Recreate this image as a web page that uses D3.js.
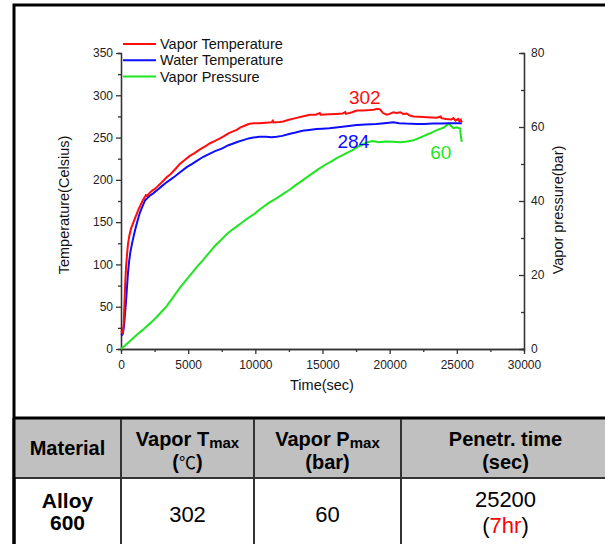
<!DOCTYPE html>
<html>
<head>
<meta charset="utf-8">
<script src="https://cdn.jsdelivr.net/npm/d3@7"></script>
<style>
  body { margin: 0; background: #fff; }
  svg text { font-family: "Liberation Sans", Arial, sans-serif; }
</style>
</head>
<body>
<div id="chart"></div>
<script>
// time (sec), temperature (Celsius)
var vaporTemp = [
  [0,21],[60,20],[130,19],[200,30],[260,55],[320,80],[380,98],[440,110],[520,124],[620,134],
  [740,142],[880,148],[1000,153],[1150,159],[1300,165],[1450,170],[1600,175],[1750,179],[1850,182],
  [1950,181],[2100,184],[2300,187],[2500,189],[2700,192],[2900,195],[3150,199],[3400,203],[3700,207],
  [4000,212],[4390,219],[4700,223],[5100,228],[5500,232],[5880,236],[6300,240],[6600,243],[7000,246],
  [7370,249],[7700,252],[8000,255],[8300,257],[8610,259],[8900,262],[9200,264],[9500,266],[9850,267],
  [10300,267],[10800,267.5],[11200,268],[11300,270],[11350,268],[11800,268.5],[12080,269],[12500,271],
  [13000,273],[13500,275],[14070,277],[14500,277],[14800,279],[14850,277],[15500,277.5],[16000,278],
  [16500,278.5],[16700,280],[16750,278],[17200,280],[17550,282],[18000,282],[18500,282.5],[18800,283],
  [19100,284],[19300,283],[19500,279],[19790,277],[20000,278],[20280,280],[20500,279],[20800,280],
  [21000,278],[21270,278.5],[21500,276],[21770,275],[22200,274.5],[22800,274],[23500,273.5],[23800,275],
  [23850,273],[24200,272],[24600,271.5],[24750,273],[24900,270],[25100,272],[25200,269],[25300,271],[25370,268]
];

var waterTemp = [
  [0,18],[80,17],[150,19],[230,28],[300,42],[370,55],[440,72],[520,90],[600,103],[700,115],[850,127],
  [1040,140],[1200,150],[1400,161],[1660,171],[1800,176],[2000,179],[2200,182],[2400,184],[2700,188],
  [3000,192],[3300,196],[3650,200],[4000,204],[4400,209],[4890,215],[5300,219],[5700,223],[6100,227],
  [6620,231],[7000,234],[7500,237],[8000,241],[8360,243],[8700,245],[9100,247],[9500,249],[9850,250],
  [10300,251],[10800,251],[11200,250.5],[11590,251],[12000,252],[12580,254.5],[13000,256],[13500,258],
  [14000,259],[14560,260],[15000,260.5],[15500,261],[16000,262],[16800,263.5],[17550,265],[18200,265.5],
  [19000,266],[19600,267],[20280,268],[20700,267],[21200,266.5],[22020,266],[22600,266],[23200,266.5],
  [23800,266.5],[24500,267],[25000,267],[25370,267]
];

// time (sec), pressure (bar)
var vaporPressure = [
  [0,0],[400,1.3],[800,2.6],[1200,3.9],[1600,5.1],[2000,6.4],[2400,7.7],[2900,9.6],[3400,11.6],
  [3900,14.1],[4390,16.6],[4800,18.4],[5200,20.2],[5700,22.4],[6120,24.1],[6600,26.2],[7000,27.9],
  [7400,29.3],[7860,31],[8300,32.3],[8800,33.6],[9300,35],[9850,36.3],[10400,37.9],[11000,39.5],
  [11600,40.8],[12100,42],[12580,43.1],[13000,44.3],[13330,45.1],[13800,46.3],[14300,47.6],[14700,48.6],
  [15200,49.8],[15700,50.8],[16060,51.6],[16600,52.6],[17200,53.7],[17700,54.8],[18300,55.8],[18700,56.2],
  [19200,55.9],[19700,56.1],[20280,56],[20800,55.9],[21300,56.1],[21770,56.4],[22300,57.2],[23010,58.3],
  [23600,59.3],[24000,59.8],[24250,60.5],[24400,60.9],[24600,60.2],[24750,59.7],[25000,59.9],
  [25240,59.6],[25300,57.5],[25370,56]
];

var xTicks = [0, 5000, 10000, 15000, 20000, 25000, 30000];
var tempTicks = [0, 50, 100, 150, 200, 250, 300, 350];
var presTicks = [0, 20, 40, 60, 80];

// peak labels [text, time, temp]
var peakLabels = [["302", 18150, 290], ["284", 17300, 238], ["60", 23800, 225]];

var legendNames = ["Vapor Temperature", "Water Temperature", "Vapor Pressure"];
var colors = ["#ff0d0d", "#0d0dff", "#1ee61e"];

var tableHead = ["Material", "Vapor T", "Vapor P", "Penetr. time"];
var tableRow = ["Alloy 600", "302", "60", "25200"];

function init() {

    var w = 605;
    var h = 544;

    var svg = d3.select("#chart")
        .append("svg")
        .attr("width", w)
        .attr("height", h);

    var x = d3.scaleLinear().domain([0, 30000]).range([121, 524]);
    var yT = d3.scaleLinear().domain([0, 350]).range([349, 53]);
    var yP = d3.scaleLinear().domain([0, 80]).range([349, 53]);

    // outer frame
    svg.append("path")
        .attr("d", "M14,545 L14,5 L620,5")
        .attr("fill", "none")
        .attr("stroke", "#000")
        .attr("stroke-width", 3);

    // minor ticks
    function minor(vals) {
        var out = [];
        for (var i = 0; i < vals.length - 1; i++) out.push((vals[i] + vals[i + 1]) / 2);
        return out;
    }

    var axisColor = "#333";

    svg.append("g")
        .attr("transform", "translate(0,349)")
        .call(d3.axisBottom(x).tickValues(minor(xTicks)).tickSize(3).tickFormat(""));
    svg.append("g")
        .attr("transform", "translate(121,0)")
        .call(d3.axisLeft(yT).tickValues(minor(tempTicks)).tickSize(3).tickFormat(""));
    svg.append("g")
        .attr("transform", "translate(524,0)")
        .call(d3.axisRight(yP).tickValues(minor(presTicks)).tickSize(-3).tickFormat(""));

    svg.append("g")
        .attr("transform", "translate(0,349)")
        .call(d3.axisBottom(x).tickValues(xTicks).tickSize(5).tickSizeOuter(0).tickPadding(6).tickFormat(d3.format("d")));
    svg.append("g")
        .attr("transform", "translate(121,0)")
        .call(d3.axisLeft(yT).tickValues(tempTicks).tickSize(5).tickSizeOuter(0).tickPadding(3));
    svg.append("g")
        .attr("transform", "translate(524,0)")
        .call(d3.axisRight(yP).tickValues(presTicks).tickSize(-5).tickSizeOuter(0).tickPadding(7));

    svg.selectAll(".domain, .tick line")
        .attr("stroke", axisColor)
        .attr("stroke-width", 1.3);
    svg.selectAll(".tick text")
        .attr("font-family", "Liberation Sans, Arial, sans-serif")
        .attr("font-size", 12)
        .attr("fill", "#222");

    // axis titles
    svg.append("text")
        .attr("x", 322).attr("y", 390)
        .attr("text-anchor", "middle")
        .attr("font-size", 14.5)
        .attr("fill", "#111")
        .text("Time(sec)");
    svg.append("text")
        .attr("transform", "translate(69,205) rotate(-90)")
        .attr("text-anchor", "middle")
        .attr("font-size", 14.5)
        .attr("fill", "#111")
        .text("Temperature(Celsius)");
    svg.append("text")
        .attr("transform", "translate(563,210) rotate(-90)")
        .attr("text-anchor", "middle")
        .attr("font-size", 14.5)
        .attr("fill", "#111")
        .text("Vapor pressure(bar)");

    // lines
    var lineT = d3.line().x(function (d) { return x(d[0]); }).y(function (d) { return yT(d[1]); });
    var lineP = d3.line().x(function (d) { return x(d[0]); }).y(function (d) { return yP(d[1]); });

    svg.append("path").datum(vaporPressure)
        .attr("d", lineP).attr("fill", "none")
        .attr("stroke", colors[2]).attr("stroke-width", 2);
    svg.append("path").datum(waterTemp)
        .attr("d", lineT).attr("fill", "none")
        .attr("stroke", colors[1]).attr("stroke-width", 2);
    svg.append("path").datum(vaporTemp)
        .attr("d", lineT).attr("fill", "none")
        .attr("stroke", colors[0]).attr("stroke-width", 2);

    // peak labels
    svg.selectAll(".peak")
        .data(peakLabels)
        .enter()
        .append("text")
        .attr("class", "peak")
        .attr("x", function (d) { return x(d[1]); })
        .attr("y", function (d) { return yT(d[2]); })
        .attr("text-anchor", "middle")
        .attr("font-size", 19)
        .attr("fill", function (d, i) { return colors[i]; })
        .text(function (d) { return d[0]; });

    // legend
    var leg = svg.selectAll(".leg")
        .data(legendNames)
        .enter()
        .append("g")
        .attr("class", "leg")
        .attr("transform", function (d, i) { return "translate(123," + (44 + i * 16.3) + ")"; });
    leg.append("line")
        .attr("x1", 0).attr("x2", 33)
        .attr("stroke", function (d, i) { return colors[i]; })
        .attr("stroke-width", 2);
    leg.append("text")
        .attr("x", 37).attr("dy", "0.35em")
        .attr("font-size", 14.5)
        .attr("fill", "#111")
        .text(function (d) { return d; });

    // table
    var colX = [14, 121, 254, 401, 610];
    var headTop = 419, headBot = 478;

    svg.append("rect")
        .attr("x", 14).attr("y", headTop)
        .attr("width", 600).attr("height", headBot - headTop)
        .attr("fill", "#c0c0c0");

    svg.append("line")
        .attr("x1", 14).attr("x2", 610).attr("y1", 418).attr("y2", 418)
        .attr("stroke", "#000").attr("stroke-width", 3);
    svg.append("line")
        .attr("x1", 14).attr("x2", 610).attr("y1", headBot).attr("y2", headBot)
        .attr("stroke", "#333").attr("stroke-width", 2);
    svg.selectAll(".col")
        .data(colX.slice(1, 4))
        .enter()
        .append("line")
        .attr("class", "col")
        .attr("x1", function (d) { return d; }).attr("x2", function (d) { return d; })
        .attr("y1", headTop).attr("y2", 545)
        .attr("stroke", "#333").attr("stroke-width", 2);
    svg.append("line")
        .attr("x1", 14).attr("x2", 14).attr("y1", 418).attr("y2", 545)
        .attr("stroke", "#000").attr("stroke-width", 3);

    function cx(i) { return (colX[i] + colX[i + 1]) / 2; }

    // header row
    svg.append("text")
        .attr("x", cx(0)).attr("y", 455)
        .attr("text-anchor", "middle").attr("font-size", 20).attr("font-weight", "bold")
        .text(tableHead[0]);

    var subs = [null, "max", "max", null];
    var second = [null, "\u2103", "bar", "sec"];
    for (var i = 1; i < 4; i++) {
        var t = svg.append("text")
            .attr("x", cx(i)).attr("y", 446)
            .attr("text-anchor", "middle").attr("font-size", 20).attr("font-weight", "bold");
        t.append("tspan").text(tableHead[i]);
        if (subs[i]) {
            t.append("tspan").attr("font-size", 15).attr("dy", 2).text(subs[i]);
        }
        var t2 = svg.append("text")
            .attr("x", cx(i)).attr("y", 469)
            .attr("text-anchor", "middle").attr("font-size", 20).attr("font-weight", "bold");
        t2.append("tspan").text("(");
        if (i === 1) {
            t2.append("tspan")
                .attr("font-weight", "normal")
                .attr("font-size", 17)
                .attr("font-family", "Noto Sans CJK KR, DejaVu Serif, serif")
                .text(second[i]);
        } else {
            t2.append("tspan").text(second[i]);
        }
        t2.append("tspan").text(")");
    }

    // data row
    var mat = tableRow[0].split(" ");
    svg.append("text")
        .attr("x", cx(0)).attr("y", 508)
        .attr("text-anchor", "middle").attr("font-size", 21).attr("font-weight", "bold")
        .text(mat[0]);
    svg.append("text")
        .attr("x", cx(0)).attr("y", 530)
        .attr("text-anchor", "middle").attr("font-size", 21).attr("font-weight", "bold")
        .text(mat[1]);
    svg.append("text")
        .attr("x", cx(1)).attr("y", 522)
        .attr("text-anchor", "middle").attr("font-size", 22)
        .text(tableRow[1]);
    svg.append("text")
        .attr("x", cx(2)).attr("y", 522)
        .attr("text-anchor", "middle").attr("font-size", 22)
        .text(tableRow[2]);
    svg.append("text")
        .attr("x", cx(3)).attr("y", 507)
        .attr("text-anchor", "middle").attr("font-size", 22)
        .text(tableRow[3]);
    var hr = svg.append("text")
        .attr("x", cx(3)).attr("y", 533)
        .attr("text-anchor", "middle").attr("font-size", 22);
    hr.append("tspan").text("(");
    hr.append("tspan").attr("fill", "#ff0000").text("7hr");
    hr.append("tspan").text(")");
}

window.onload = init;
</script>
</body>
</html>
